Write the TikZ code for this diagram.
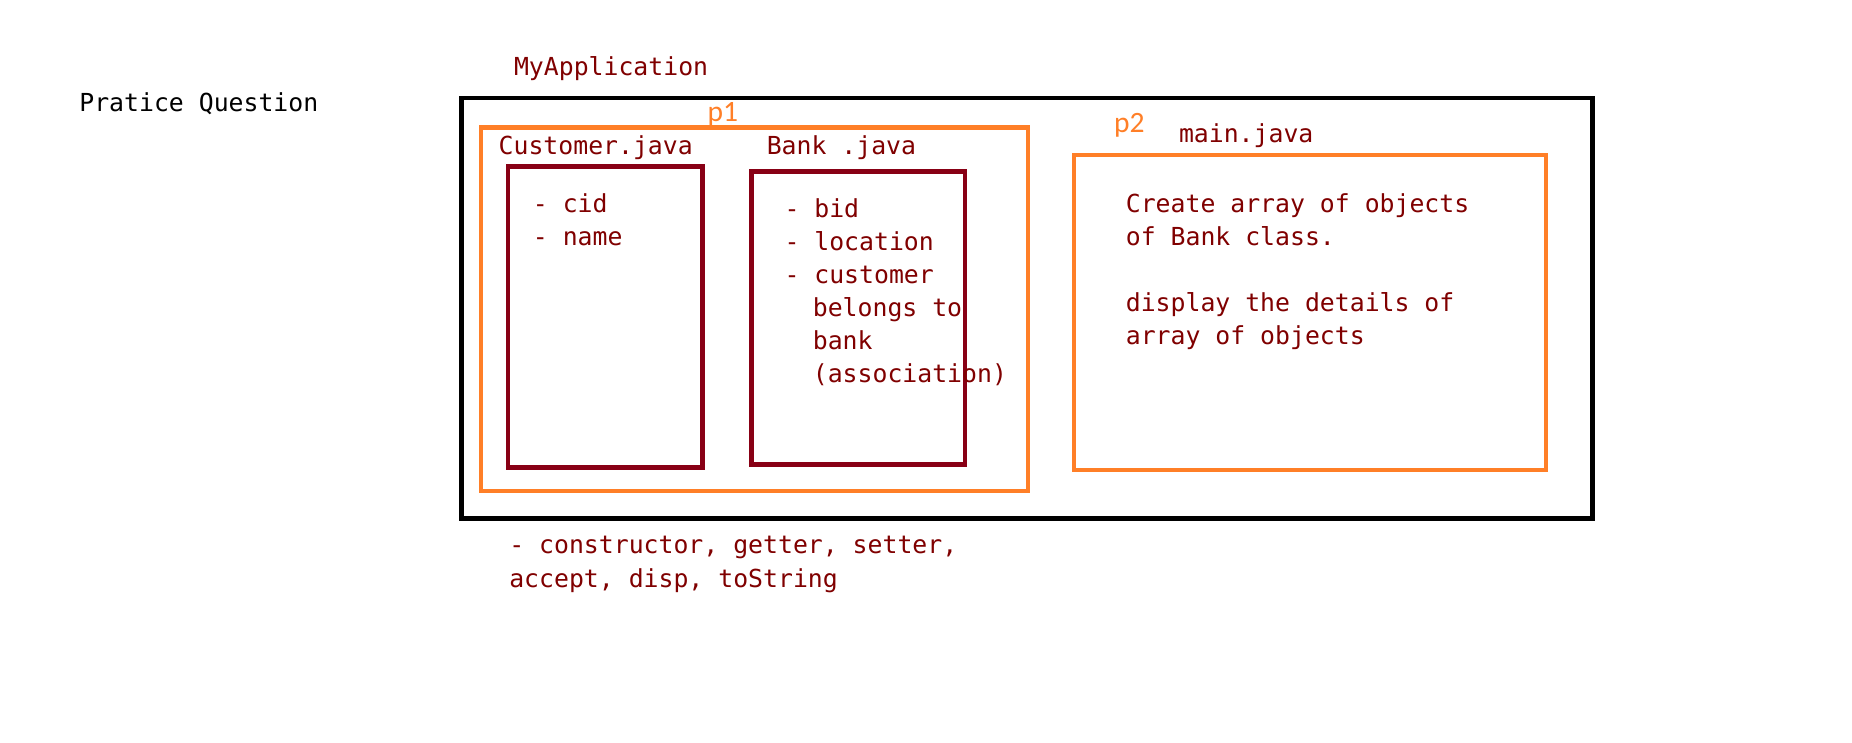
\documentclass[tikz,border=0pt]{standalone}
\usepackage{fontspec}
\newfontfamily\monof{DejaVu Sans Mono}
\newfontfamily\sansf{Carlito}
\definecolor{txtred}{HTML}{800000}
\definecolor{boxred}{HTML}{880015}
\definecolor{orng}{HTML}{FF7F27}
\begin{document}
\begin{tikzpicture}[x=1pt,y=-1pt,
  txt/.style={font=\monof\fontsize{21}{28}\selectfont, text=txtred, anchor=base west, inner sep=0pt},
  lbl/.style={font=\sansf\fontsize{25}{28}\selectfont, text=orng, anchor=base west, inner sep=0pt},
  outerbox/.style={draw=black, line width=4pt},
  pkgbox/.style={draw=orng, line width=3.5pt},
  clsbox/.style={draw=boxred, line width=4pt}]
\useasboundingbox (0,0) rectangle (1568,629);
\fill[white] (0,0) rectangle (1568,629);
% boxes
\draw[outerbox] (391,83) rectangle (1348,439);
\draw[pkgbox] (407,108) rectangle (870,416);
\draw[clsbox] (430,141) rectangle (595,396);
\draw[clsbox] (636,145) rectangle (817,393);
\draw[pkgbox] (909,131) rectangle (1309,398);
% titles
\node[txt, text=black] (pq) at (67,94) {Pratice Question};
\node[txt] (app) at (435,64) {MyApplication};
\node[lbl] (p1) at (599,103) {p1};
\node[lbl] (p2) at (943,112) {p2};
\node[txt] (cust) at (422,131) {Customer.java};
\node[txt] (bank) at (649,131) {Bank .java};
\node[txt] (mainj) at (998,121) {main.java};
% customer fields
\node[txt] (c1) at (451,180) {- cid};
\node[txt] (c2) at (451,208) {- name};
% bank fields
\node[txt] (b1) at (664,184) {- bid};
\node[txt] (b2) at (664,212) {- location};
\node[txt] (b3) at (664,240) {- customer};
\node[txt] (b4) at (688,268) {belongs to};
\node[txt] (b5) at (688,296) {bank};
\node[txt] (b6) at (688,324) {(association)};
% main text
\node[txt] (m1) at (953,180) {Create array of objects};
\node[txt] (m2) at (953,208) {of Bank class.};
\node[txt] (m3) at (953,264) {display the details of};
\node[txt] (m4) at (953,292) {array of objects};
% bottom
\node[txt] (n1) at (431,469) {- constructor, getter, setter,};
\node[txt] (n2) at (431,497) {accept, disp, toString};
\end{tikzpicture}
\end{document}
